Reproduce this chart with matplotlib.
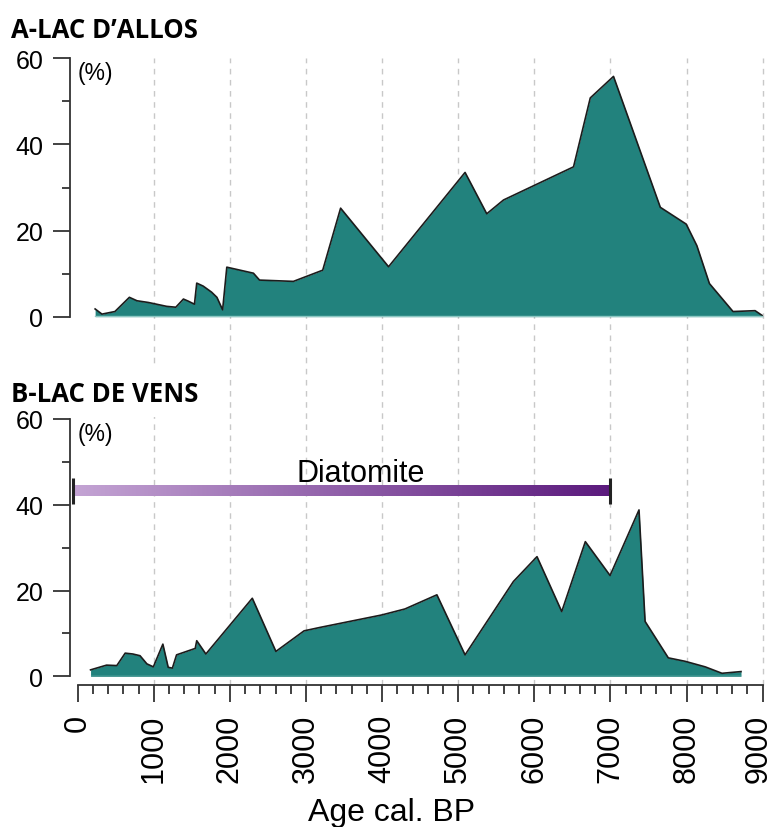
import matplotlib
matplotlib.use("Agg")
import matplotlib.pyplot as plt
import numpy as np
from matplotlib.colors import LinearSegmentedColormap
from matplotlib.transforms import blended_transform_factory, ScaledTranslation
from matplotlib.lines import Line2D
from matplotlib.patches import Rectangle
from matplotlib.ticker import MultipleLocator

plt.rcParams["font.family"] = ["Liberation Sans", "DejaVu Sans"]

# ---- data -------------------------------------------------------------
allos_age = [230, 320, 490, 680, 780, 930, 1170, 1290, 1390, 1455, 1535,
             1565, 1650, 1760, 1830, 1905, 1960, 2310, 2390, 2835, 3220,
             3455, 4085, 5090, 5375, 5595, 6515, 6735, 7040, 7655, 7995,
             8135, 8300, 8610, 8900, 9000]
allos_pct = [1.8, 0.6, 1.2, 4.5, 3.7, 3.3, 2.4, 2.2, 4.1, 3.6, 2.9,
             7.8, 7.1, 5.7, 4.5, 1.6, 11.5, 10.1, 8.5, 8.2, 10.8,
             25.2, 11.6, 33.5, 23.9, 27.1, 34.8, 50.8, 55.8, 25.4, 21.5,
             16.5, 7.7, 1.2, 1.4, 0.2]

vens_age = [170, 380, 515, 625, 725, 820, 910, 995, 1120, 1190, 1245,
            1300, 1545, 1565, 1685, 2295, 2605, 2975, 3185, 3995, 4300,
            4720, 5090, 5725, 6035, 6360, 6670, 6995, 7375, 7455, 7760,
            7980, 8245, 8465, 8715]
vens_pct = [1.5, 2.6, 2.5, 5.4, 5.2, 4.8, 2.9, 2.2, 7.5, 2.1, 1.9,
            5.0, 6.5, 8.3, 5.2, 18.2, 5.8, 10.6, 11.4, 14.3, 15.7,
            19.0, 5.0, 22.1, 27.9, 15.1, 31.4, 23.5, 38.8, 12.8, 4.3,
            3.5, 2.2, 0.7, 1.1]

panel_titles = ["A-LAC D\u2019ALLOS", "B-LAC DE VENS"]
diatomite_start, diatomite_end = -60, 7000
diatomite_level = 43.2
x_ticks = list(range(0, 9001, 1000))
grid_ages = list(range(1000, 9001, 1000))
y_ticks = [0, 20, 40, 60]

# ---- layout helpers (pixel -> figure fraction) -----------------------
W, H = 776, 828


def fx(px):
    return px / W


def fy(py):
    return 1 - py / H


TEAL = "#22827d"
OUTLINE = "#1c1c1c"
SPINE = "#333333"

fig = plt.figure(figsize=(W / 100, H / 100), dpi=100)

ax_a = fig.add_axes([fx(70), fy(317.7), fx(762.7) - fx(70), fy(59.3) - fy(317.7)])
ax_b = fig.add_axes([fx(70), fy(677.3), fx(762.7) - fx(70), fy(420) - fy(677.3)])

for ax, age, pct in ((ax_a, allos_age, allos_pct), (ax_b, vens_age, vens_pct)):
    ax.set_facecolor("none")
    ax.fill_between(age, pct, 0, color=TEAL, lw=0, zorder=2)
    ax.plot(age, pct, color=OUTLINE, lw=1.2, zorder=3)
    ax.plot([age[0], age[-1]], [0.15, 0.15], color="#8cc7c2", lw=1.0, zorder=3)
    ax.set_xlim(-100, 9000)
    ax.set_ylim(0, 60)
    for s in ("top", "right"):
        ax.spines[s].set_visible(False)
    ax.spines["left"].set_bounds(0, 60)
    ax.spines["left"].set_color(SPINE)
    ax.spines["left"].set_linewidth(1.3)
    ax.set_yticks(y_ticks)
    ax.yaxis.set_minor_locator(MultipleLocator(10))
    ax.tick_params(axis="y", which="major", length=12.2, width=1.3,
                   color=SPINE, pad=7, labelsize=18)
    ax.tick_params(axis="y", which="minor", length=5.8, width=1.3, color=SPINE)
    ax.text(0, 56.6, "(%)", fontsize=16.5, ha="left", va="center")

# top panel has no age axis of its own
ax_a.spines["bottom"].set_visible(False)
ax_a.xaxis.set_visible(False)

# shared age axis under the lower panel
ax_b.spines["bottom"].set_position(("outward", 6.3))
ax_b.spines["bottom"].set_bounds(0, 9000)
ax_b.spines["bottom"].set_color(SPINE)
ax_b.spines["bottom"].set_linewidth(1.3)
ax_b.set_xticks(x_ticks)
ax_b.set_xticklabels([str(t) for t in x_ticks], rotation=90)
ax_b.xaxis.set_minor_locator(MultipleLocator(200))
ax_b.tick_params(axis="x", which="major", length=12.2, width=1.3,
                 color=SPINE, pad=8.6, labelsize=22)
ax_b.tick_params(axis="x", which="minor", length=6.5, width=1.3, color=SPINE)
# nudge the last age label so it stays inside the canvas
last = ax_b.get_xticklabels()[-1]
last.set_transform(last.get_transform() + ScaledTranslation(-4 / 100, 0, fig.dpi_scale_trans))

# diatomite interval: gradient bar with end caps
dia_cmap = LinearSegmentedColormap.from_list("dia", ["#c4a4d4", "#5b1a7d"])
ax_b.imshow(np.linspace(0, 1, 256).reshape(1, -1),
            extent=[diatomite_start, diatomite_end,
                    diatomite_level - 1.2, diatomite_level + 1.25],
            aspect="auto", cmap=dia_cmap, zorder=4, interpolation="bilinear")
for xe in (diatomite_start, diatomite_end):
    ax_b.plot([xe, xe], [diatomite_level - 3.0, diatomite_level + 3.0],
              color="#222222", lw=2.2, solid_capstyle="butt", zorder=5)
ax_b.text((diatomite_start + diatomite_end) / 2 + 250, diatomite_level + 2.4,
          "Diatomite", fontsize=22, ha="center", va="baseline", zorder=5)
ax_b.set_xlim(-100, 9000)
ax_b.set_ylim(0, 60)

# dashed age guides running through both panels
trans = blended_transform_factory(ax_b.transData, fig.transFigure)
for g in grid_ages:
    fig.add_artist(Line2D([g, g], [fy(686), fy(59.3)], transform=trans,
                          color="#c8c8c8", lw=1.0, ls=(0, (4, 4)), zorder=-2))
# blank band behind the lower panel title
fig.add_artist(Rectangle((fx(8), fy(418)), fx(210) - fx(8), fy(365) - fy(418),
                         transform=fig.transFigure, facecolor="white",
                         edgecolor="none", zorder=-1))

# panel titles and axis title
for title, base in zip(panel_titles, (38, 401.7)):
    fig.text(fx(11), fy(base), title, fontsize=18.5, fontweight="bold",
             family=["Open Sans", "DejaVu Sans"], va="baseline", ha="left")
fig.text(fx(392), fy(821), "Age cal. BP", fontsize=23, ha="center", va="baseline")

fig.savefig("out.png", dpi=100)
